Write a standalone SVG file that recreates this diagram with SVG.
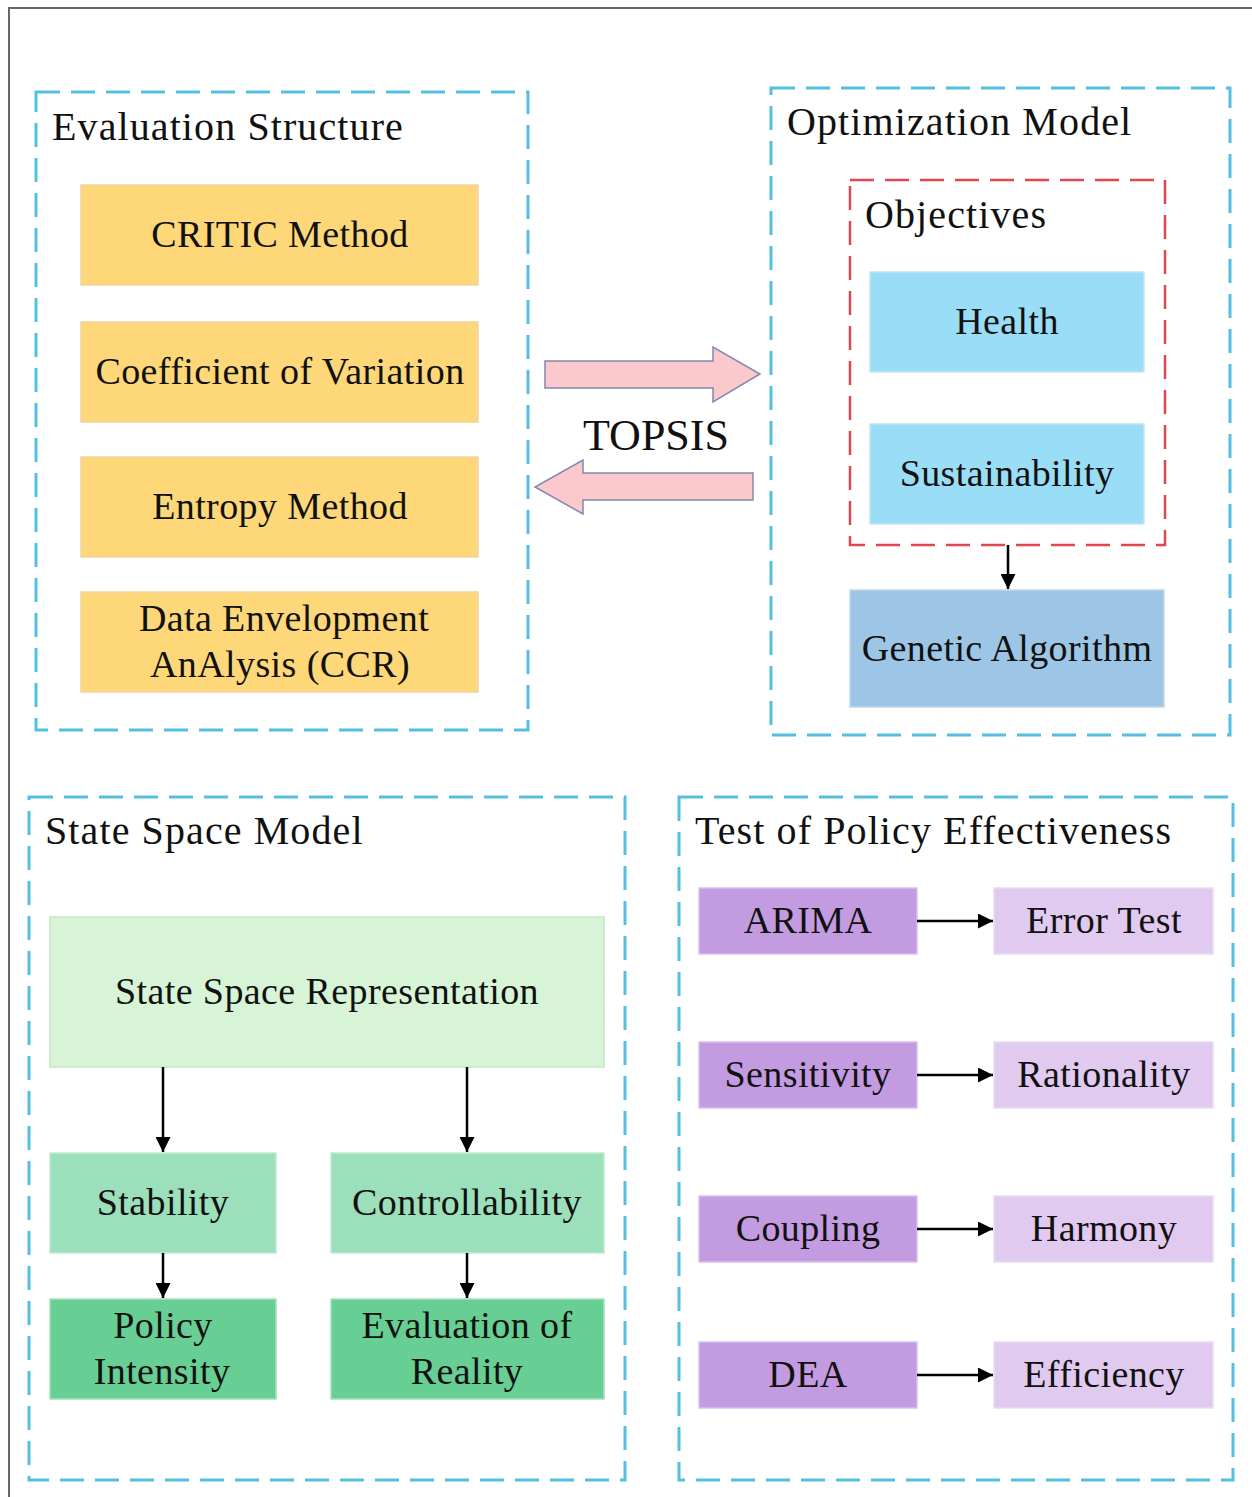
<svg xmlns="http://www.w3.org/2000/svg" width="1252" height="1497" viewBox="0 0 1252 1497">
<defs>
<style>
.t{font-family:'Liberation Serif','Tinos','DejaVu Serif',serif;font-size:38px;letter-spacing:0.4px;fill:#111;}
.h{font-size:40px;letter-spacing:1.1px;}
.c{text-anchor:middle;}
.grp{fill:none;stroke:#55bfe2;stroke-width:3;stroke-dasharray:24 11;}
.red{fill:none;stroke:#e0474f;stroke-width:2.5;stroke-dasharray:24 11;}
.y{fill:#fdd778;stroke:#ecd6a0;stroke-width:1.5;}
.b{fill:#9addf6;stroke:#c4e6f2;stroke-width:1.5;}
.ga{fill:#9dc6e6;stroke:#c0d8ea;stroke-width:1.5;}
.g1{fill:#d7f4d6;stroke:#c6e4c6;stroke-width:1.5;}
.g2{fill:#9be0bb;stroke:#c2e8d2;stroke-width:1.5;}
.g3{fill:#67cf94;stroke:#a6e0bf;stroke-width:1.5;}
.p1{fill:#c39be0;stroke:#d8c2ea;stroke-width:1.5;}
.p2{fill:#e1caf0;stroke:#eadbf3;stroke-width:1.5;}
.big{fill:#fbc9cc;stroke:#8286b2;stroke-width:1.5;}
.ln{stroke:#000;stroke-width:2.5;fill:none;marker-end:url(#ah);}
</style>
<marker id="ah" viewBox="0 0 10 10" refX="10" refY="5" markerWidth="15" markerHeight="15" markerUnits="userSpaceOnUse" orient="auto"><path d="M0,0 L10,5 L0,10 z" fill="#000"/></marker>
</defs>
<rect width="1252" height="1497" fill="#fff"/>
<rect x="9" y="8" width="1260" height="1510" fill="none" stroke="#666" stroke-width="2"/>

<g id="evaluation-structure">
<rect class="grp" x="36" y="92" width="492" height="638"/>
<text class="t h" x="52" y="140">Evaluation Structure</text>
</g>
<g id="critic"><rect class="y" x="81" y="185" width="397" height="100"/><text class="t c" x="280" y="247">CRITIC Method</text></g>
<g id="cov"><rect class="y" x="81" y="322" width="397" height="100"/><text class="t c" x="280" y="384">Coefficient of Variation</text></g>
<g id="entropy"><rect class="y" x="81" y="457" width="397" height="100"/><text class="t c" x="280" y="519">Entropy Method</text></g>
<g id="dea-ccr"><rect class="y" x="81" y="592" width="397" height="100"/><text class="t c" x="284" y="631">Data Envelopment</text><text class="t c" x="280" y="677">AnAlysis (CCR)</text></g>

<g id="optimization-model">
<rect class="grp" x="771" y="88" width="459" height="647"/>
<text class="t h" x="787" y="135">Optimization Model</text>
</g>
<g id="objectives">
<rect class="red" x="850" y="180" width="315" height="365"/>
<text class="t h" x="865" y="228">Objectives</text>
</g>
<g id="health"><rect class="b" x="870" y="272" width="274" height="100"/><text class="t c" x="1007" y="334">Health</text></g>
<g id="sustainability"><rect class="b" x="870" y="424" width="274" height="100"/><text class="t c" x="1007" y="486">Sustainability</text></g>
<g id="genetic"><rect class="ga" x="850" y="590" width="314" height="117"/><text class="t c" x="1007" y="661">Genetic Algorithm</text></g>

<g id="topsis">
<path class="big" d="M545,361 L713,361 L713,347 L760,374 L713,402 L713,388 L545,388 Z"/>
<path class="big" d="M753,473 L583,473 L583,460 L535,487 L583,514 L583,500 L753,500 Z"/>
<text class="t c" x="656" y="450" style="font-size:44px;letter-spacing:0">TOPSIS</text>
</g>

<g id="state-space-model">
<rect class="grp" x="29" y="797" width="596" height="683"/>
<text class="t h" x="45" y="844">State Space Model</text>
</g>
<g id="ssr"><rect class="g1" x="50" y="917" width="554" height="150"/><text class="t c" x="327" y="1004">State Space Representation</text></g>
<g id="stability"><rect class="g2" x="50" y="1153" width="226" height="100"/><text class="t c" x="163" y="1215">Stability</text></g>
<g id="controllability"><rect class="g2" x="331" y="1153" width="273" height="100"/><text class="t c" x="467" y="1215">Controllability</text></g>
<g id="policy-intensity"><rect class="g3" x="50" y="1299" width="226" height="100"/><text class="t c" x="163" y="1338">Policy</text><text class="t c" x="162" y="1384">Intensity</text></g>
<g id="evaluation-reality"><rect class="g3" x="331" y="1299" width="273" height="100"/><text class="t c" x="467" y="1338">Evaluation of</text><text class="t c" x="467" y="1384">Reality</text></g>

<g id="test-policy">
<rect class="grp" x="679" y="797" width="554" height="683"/>
<text class="t h" x="695" y="844">Test of Policy Effectiveness</text>
</g>
<g id="arima"><rect class="p1" x="699" y="888" width="218" height="66"/><text class="t c" x="808" y="933">ARIMA</text></g>
<g id="error-test"><rect class="p2" x="994" y="888" width="219" height="66"/><text class="t c" x="1104" y="933">Error Test</text></g>
<g id="sensitivity"><rect class="p1" x="699" y="1042" width="218" height="66"/><text class="t c" x="808" y="1087">Sensitivity</text></g>
<g id="rationality"><rect class="p2" x="994" y="1042" width="219" height="66"/><text class="t c" x="1104" y="1087">Rationality</text></g>
<g id="coupling"><rect class="p1" x="699" y="1196" width="218" height="66"/><text class="t c" x="808" y="1241">Coupling</text></g>
<g id="harmony"><rect class="p2" x="994" y="1196" width="219" height="66"/><text class="t c" x="1104" y="1241">Harmony</text></g>
<g id="dea"><rect class="p1" x="699" y="1342" width="218" height="66"/><text class="t c" x="808" y="1387">DEA</text></g>
<g id="efficiency"><rect class="p2" x="994" y="1342" width="219" height="66"/><text class="t c" x="1104" y="1387">Efficiency</text></g>

<g id="connectors">
<line class="ln" x1="1008" y1="545" x2="1008" y2="589"/>
<line class="ln" x1="163" y1="1067" x2="163" y2="1152"/>
<line class="ln" x1="467" y1="1067" x2="467" y2="1152"/>
<line class="ln" x1="163" y1="1253" x2="163" y2="1298"/>
<line class="ln" x1="467" y1="1253" x2="467" y2="1298"/>
<line class="ln" x1="917" y1="921" x2="993" y2="921"/>
<line class="ln" x1="917" y1="1075" x2="993" y2="1075"/>
<line class="ln" x1="917" y1="1229" x2="993" y2="1229"/>
<line class="ln" x1="917" y1="1375" x2="993" y2="1375"/>
</g>
</svg>
